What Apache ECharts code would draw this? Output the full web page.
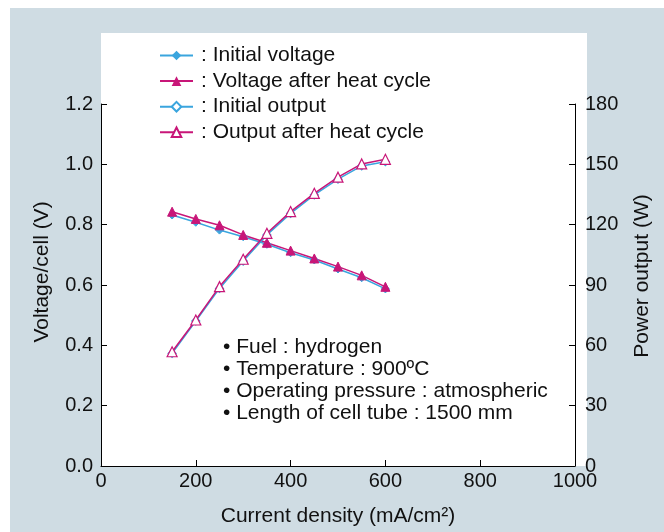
<!DOCTYPE html>
<html>
<head>
<meta charset="utf-8">
<script src="https://cdn.jsdelivr.net/npm/echarts@6/dist/echarts.min.js"></script>
<style>
  html, body { margin: 0; padding: 0; background: #fff; }
  #chart { width: 664px; height: 532px; }
</style>
</head>
<body>
<div id="chart"></div>
<script>
// current density (mA/cm2)
const currentDensity = [150, 200, 250, 300, 350, 400, 450, 500, 550, 600]
// voltage per cell (V)
const initialVoltage = [0.832, 0.808, 0.782, 0.760, 0.735, 0.707, 0.683, 0.653, 0.624, 0.587]
const voltageAfterCycle = [0.843, 0.819, 0.798, 0.766, 0.740, 0.714, 0.688, 0.661, 0.632, 0.594]
// power output (W)
const initialOutput = [56.0, 72.1, 88.3, 101.9, 114.9, 125.6, 134.8, 142.6, 149.2, 151.3]
const outputAfterCycle = [56.8, 72.6, 89.2, 102.8, 115.7, 126.5, 135.6, 143.6, 150.2, 152.5]

const seriesNames = ['Initial voltage', 'Voltage after heat cycle', 'Initial output', 'Output after heat cycle']
const notes = [
  '\u2022 Fuel : hydrogen',
  '\u2022 Temperature : 900\u00baC',
  '\u2022 Operating pressure : atmospheric',
  '\u2022 Length of cell tube : 1500 mm'
]

const pair = (xs, ys) => xs.map((x, i) => [x, ys[i]])

const BLUE = '#3aa5de'
const MAGENTA = '#c81678'
const FONT = 'Liberation Sans'

const chart = echarts.init(document.getElementById('chart'))

const axisCommon = {
  axisLine: { show: true, lineStyle: { color: '#000', width: 1 } },
  axisTick: { show: true, inside: true, length: 6, lineStyle: { color: '#000' } },
  splitLine: { show: false },
  axisLabel: { color: '#111', fontSize: 20, fontFamily: FONT },
  nameTextStyle: { color: '#111', fontSize: 21, fontFamily: FONT }
}

const option = {
  backgroundColor: '#fff',
  animation: false,
  textStyle: { fontFamily: FONT },
  graphic: [
    { type: 'rect', z: -10, silent: true, shape: { x: 10, y: 8, width: 654, height: 524 }, style: { fill: '#cfdce3' } },
    { type: 'rect', z: -9, silent: true, shape: { x: 101, y: 33, width: 486, height: 433 }, style: { fill: '#fff' } },
    ...notes.map((t, i) => ({
      type: 'text', left: 223, top: 337 + i * 22, z: 5,
      style: { text: t, fontSize: 21, fontFamily: FONT, fill: '#111' }
    }))
  ],
  legend: {
    orient: 'vertical',
    left: 154,
    top: 40,
    itemWidth: 33,
    itemHeight: 12,
    itemGap: 4.6,
    formatter: ': {name}',
    textStyle: { fontSize: 21, lineHeight: 21, fontFamily: FONT, color: '#111', padding: [0, 0, 0, 3] },
    data: seriesNames
  },
  grid: { left: 101, right: 89, top: 104, bottom: 66 },
  xAxis: {
    ...axisCommon,
    type: 'value',
    min: 0, max: 1000, interval: 200,
    name: 'Current density (mA/cm\u00b2)',
    nameLocation: 'middle',
    nameGap: 40,
    axisLabel: { ...axisCommon.axisLabel, margin: 5, formatter: v => String(v) }
  },
  yAxis: [
    {
      ...axisCommon,
      type: 'value',
      min: 0, max: 1.2, interval: 0.2,
      name: 'Voltage/cell (V)',
      nameLocation: 'middle',
      nameGap: 48,
      nameTextStyle: { ...axisCommon.nameTextStyle, padding: [0, 0, 0, 26] },
      axisLabel: { ...axisCommon.axisLabel, margin: 8, formatter: v => v.toFixed(1) }
    },
    {
      ...axisCommon,
      type: 'value',
      position: 'right',
      min: 0, max: 180, interval: 30,
      name: 'Power output (W)',
      nameLocation: 'middle',
      nameGap: 57,
      nameTextStyle: { ...axisCommon.nameTextStyle, padding: [0, 0, 0, 18] },
      axisLabel: { ...axisCommon.axisLabel, margin: 10 }
    }
  ],
  series: [
    {
      name: seriesNames[0], type: 'line', yAxisIndex: 0,
      data: pair(currentDensity, initialVoltage),
      symbol: 'diamond', symbolSize: 8,
      lineStyle: { color: BLUE, width: 1.5 },
      itemStyle: { color: BLUE, borderColor: BLUE }
    },
    {
      name: seriesNames[1], type: 'line', yAxisIndex: 0,
      data: pair(currentDensity, voltageAfterCycle),
      symbol: 'triangle', symbolSize: 9,
      lineStyle: { color: MAGENTA, width: 1.5 },
      itemStyle: { color: MAGENTA, borderColor: MAGENTA }
    },
    {
      name: seriesNames[2], type: 'line', yAxisIndex: 1,
      data: pair(currentDensity, initialOutput),
      symbol: 'diamond', symbolSize: 8,
      lineStyle: { color: BLUE, width: 1.5 },
      itemStyle: { color: '#fff', borderColor: BLUE, borderWidth: 1.2 }
    },
    {
      name: seriesNames[3], type: 'line', yAxisIndex: 1,
      data: pair(currentDensity, outputAfterCycle),
      symbol: 'triangle', symbolSize: 10,
      lineStyle: { color: MAGENTA, width: 1.5 },
      itemStyle: { color: '#fff', borderColor: MAGENTA, borderWidth: 1.2 }
    }
  ]
}

chart.setOption(option)
window.addEventListener('resize', () => chart.resize())
</script>
</body>
</html>
